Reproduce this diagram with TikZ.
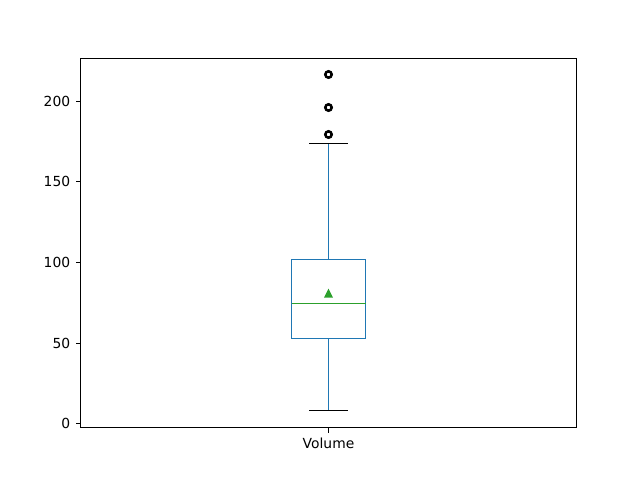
\documentclass[tikz,border=0pt]{standalone}
\usepackage{fontspec}
\setmainfont{DejaVu Sans}
\definecolor{boxblue}{HTML}{1F77B4}
\definecolor{meangreen}{HTML}{2CA02C}
\tikzset{
  spine/.style={line width=0.8pt,black},
  boxline/.style={line width=1.2pt,boxblue},
  capline/.style={line width=1.1pt,black},
  medline/.style={line width=1.2pt,meangreen},
  flier/.style={draw=black,line width=1.9pt},
  ticklabel/.style={font=\fontsize{10.4}{12}\selectfont,inner sep=0pt}
}

\begin{document}
\begin{tikzpicture}[x=0.75pt,y=-0.75pt]
  \useasboundingbox (0,0) rectangle (640,480);

    % Define the box statistics (pixel rows)
    \def\qlow{338.5}   % lower quartile
    \def\qhigh{259.5}  % upper quartile
    \def\qmed{303.5}   % median
    \def\qmean{293}    % mean
    \def\wlow{410.5}   % lower whisker
    \def\whigh{143.5}  % upper whisker
    \def\xc{328.5}     % centre of the box
    \def\xl{291.5}     % left edge of the box
    \def\xr{365.5}     % right edge of the box

    % -- Axes frame --
    \draw[spine] (80.5,58.5) rectangle (576.5,427.5);

    % -- y ticks and labels --
    \foreach \v/\py in {0/423.5,50/343.5,100/262.5,150/181.5,200/101.5}
      \draw[spine] (80.5,\py) -- (75.5,\py)
        node[ticklabel,anchor=east,xshift=-3.6pt] (tick\v) {\v};

    % -- whiskers --
    \draw[boxline] (\xc,\qlow) -- (\xc,\wlow);
    \draw[boxline] (\xc,\qhigh) -- (\xc,\whigh);
    \draw[capline] (309,\wlow) -- (347.5,\wlow);
    \draw[capline] (309,\whigh) -- (347.5,\whigh);

    % -- box and median --
    \draw[boxline] (\xl,\qlow) rectangle (\xr,\qhigh);
    \draw[medline] (\xl,\qmed) -- (\xr,\qmed);

    % -- mean marker --
    \fill[meangreen] (\xc,\qmean) ++(0,3.3pt) -- ++(-3.4pt,-6.8pt) -- ++(6.8pt,0) -- cycle;

    % -- outliers --
    \foreach \py in {134.5,107.5,74.5}
      \draw[flier] (\xc,\py) circle[radius=2.4pt];

    % -- x tick and label --
    \draw[spine] (\xc,427.5) -- (\xc,432.5)
      node[ticklabel,anchor=north,yshift=-3.6pt] (xlab) {Volume};

\end{tikzpicture}
\end{document}
